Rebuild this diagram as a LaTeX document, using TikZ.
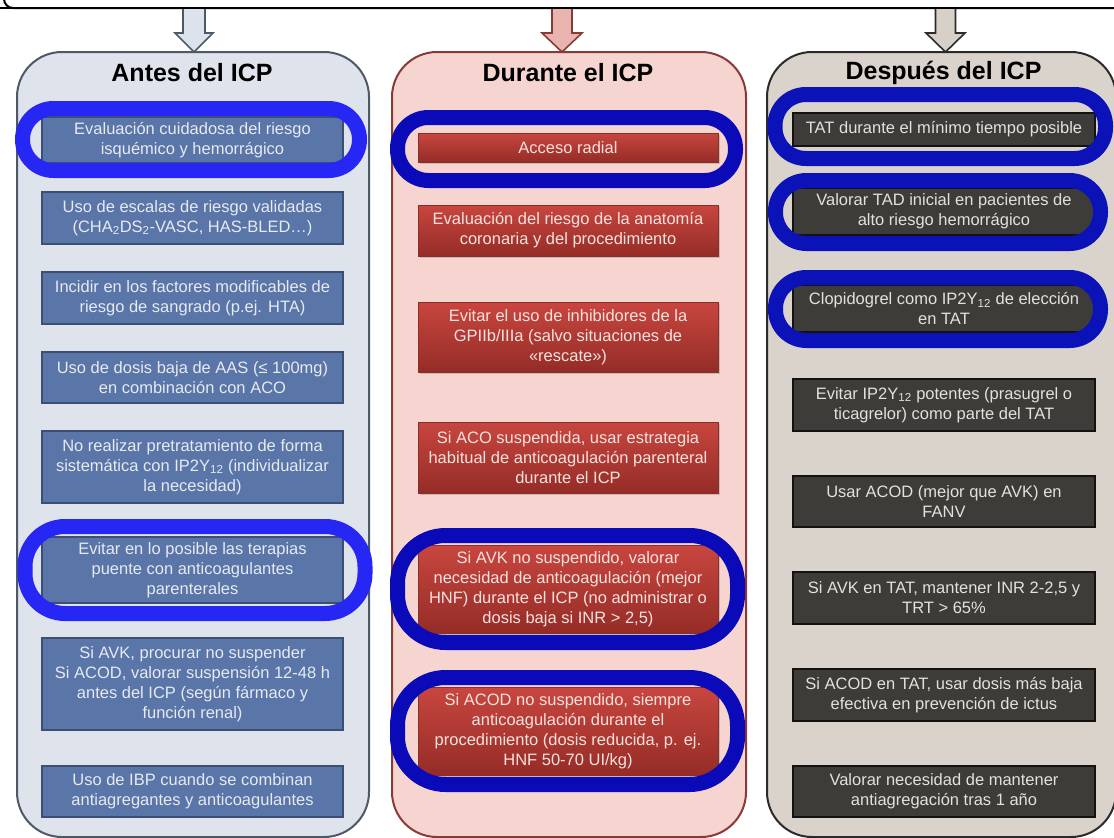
\documentclass[tikz,border=0pt]{standalone}
\usepackage{fontspec}
\setmainfont{Liberation Sans}
\usetikzlibrary{shadows,calc}
\definecolor{panLfill}{HTML}{DFE4EC}
\definecolor{panLdraw}{HTML}{4F5866}
\definecolor{panMfill}{HTML}{F6D5D0}
\definecolor{panMdraw}{HTML}{8A3A35}
\definecolor{panRfill}{HTML}{D9D3CC}
\definecolor{panRdraw}{HTML}{2B2B2B}
\definecolor{boxLfill}{HTML}{5A75A7}
\definecolor{boxLdraw}{HTML}{3D4E73}
\definecolor{boxLtext}{HTML}{E6EAF2}
\definecolor{boxMtop}{HTML}{C8463F}
\definecolor{boxMbot}{HTML}{952C27}
\definecolor{boxMdraw}{HTML}{8A2E29}
\definecolor{boxMtext}{HTML}{F7E2DE}
\definecolor{boxRfill}{HTML}{3E3C39}
\definecolor{boxRdraw}{HTML}{121212}
\definecolor{boxRtext}{HTML}{E2E1DD}
\definecolor{ringL}{HTML}{2626F5}
\definecolor{ringM}{HTML}{0A0AB8}
\definecolor{ringR}{HTML}{0A12B8}
\definecolor{arrLfill}{HTML}{DDE3ED}
\definecolor{arrMfill}{HTML}{E9B4B0}
\definecolor{arrRfill}{HTML}{D6D0C9}
\begin{document}
\begin{tikzpicture}[x=1pt,y=-1pt,
  panel/.style={rectangle, rounded corners=45pt, line width=2pt, inner sep=0pt},
  header/.style={font=\fontsize{25}{29}\selectfont\bfseries, text=black},
  boxtxt/.style={rectangle, align=center, inner sep=0pt, font=\fontsize{16.5}{20}\selectfont},
  lbox/.style={boxtxt, fill=boxLfill, draw=boxLdraw, line width=1.5pt, text=boxLtext, minimum width=301pt},
  mbox/.style={boxtxt, top color=boxMtop, bottom color=boxMbot, draw=boxMdraw, line width=0.8pt, text=boxMtext, minimum width=300pt,
     drop shadow={shadow xshift=1.5pt, shadow yshift=-2pt, opacity=0.35}},
  rbox/.style={boxtxt, fill=boxRfill, draw=boxRdraw, line width=2pt, text=boxRtext, minimum width=302pt},
  ring/.style={line width=15pt, rounded corners=#1},
  blockarrow/.style={line width=1.6pt, line join=miter}
]
\useasboundingbox (0,0) rectangle (1114,838);
\clip (0,0) rectangle (1114,838);

% top box
\draw[line width=2pt, rounded corners=9pt] (4,-40) rectangle (1140,8);

% panels
\node[panel, fill=panLfill, draw=panLdraw, minimum width=352pt, minimum height=785pt] (antes) at (193,444.5) {};
\node[panel, fill=panMfill, draw=panMdraw, minimum width=354pt, minimum height=785pt] (durante) at (569,444.5) {};
\node[panel, fill=panRfill, draw=panRdraw, minimum width=349pt, minimum height=785pt] (despues) at (941.5,444.5) {};

% arrows
\coordinate (aL) at (194,52);
\coordinate (aM) at (562,52);
\coordinate (aR) at (945.5,52);
\draw[blockarrow, fill=arrLfill, draw=panLdraw] (aL) -- ++(-19,-19) -- ++(8,0) -- ++(0,-25) -- ++(22,0) -- ++(0,25) -- ++(8,0) -- cycle;
\draw[blockarrow, fill=arrMfill, draw=panMdraw] (aM) -- ++(-20,-19) -- ++(10,0) -- ++(0,-25) -- ++(20,0) -- ++(0,25) -- ++(10,0) -- cycle;
\draw[blockarrow, fill=arrRfill, draw=panRdraw] (aR) -- ++(-19.5,-19) -- ++(9.5,0) -- ++(0,-25) -- ++(20,0) -- ++(0,25) -- ++(9.5,0) -- cycle;
\draw[line width=2pt] (-5,8) -- (1140,8);

% headers
\node[header] (hL) at (192,73) {Antes del ICP};
\node[header] (hM) at (568,73) {Durante el ICP};
\node[header] (hR) at (943.5,73) {Después del ICP};

% left column
\node[lbox, minimum height=46pt] (l1) at (192.5,140) {Evaluación cuidadosa del riesgo\\isquémico y hemorrágico};
\node[lbox, minimum height=52pt] (l2) at (192.5,218) {Uso de escalas de riesgo validadas\\(CHA\textsubscript{2}DS\textsubscript{2}-VASC, HAS-BLED…)};
\node[lbox, minimum height=52pt] (l3) at (192.5,298) {Incidir en los factores modificables de\\riesgo de sangrado (p.ej. HTA)};
\node[lbox, minimum height=51pt] (l4) at (192.5,377.5) {Uso de dosis baja de AAS (≤ 100mg)\\en combinación con ACO};
\node[lbox, minimum height=72pt] (l5) at (192.5,467) {No realizar pretratamiento de forma\\sistemática con IP2Y\textsubscript{12} (individualizar\\la necesidad)};
\node[lbox, minimum height=66pt] (l6) at (192.5,570) {Evitar en lo posible las terapias\\puente con anticoagulantes\\parenterales};
\node[lbox, minimum height=92pt] (l7) at (192.5,684) {Si AVK, procurar no suspender\\Si ACOD, valorar suspensión 12-48 h\\antes del ICP (según fármaco y\\función renal)};
\node[lbox, minimum height=51pt] (l8) at (192.5,791.5) {Uso de IBP cuando se combinan\\antiagregantes y anticoagulantes};

% middle column
\node[mbox, minimum height=29pt] (m1) at (568,147.5) {Acceso radial};
\node[mbox, minimum height=51pt] (m2) at (568,230.5) {Evaluación del riesgo de la anatomía\\coronaria y del procedimiento};
\node[mbox, minimum height=70pt] (m3) at (568,337) {Evitar el uso de inhibidores de la\\GPIIb/IIIa (salvo situaciones de\\«rescate»)};
\node[mbox, minimum height=71pt] (m4) at (568,457.5) {Si ACO suspendida, usar estrategia\\habitual de anticoagulación parenteral\\durante el ICP};
\node[mbox, minimum height=88pt] (m5) at (568,589) {Si AVK no suspendido, valorar\\necesidad de anticoagulación (mejor\\HNF) durante el ICP (no administrar o\\dosis baja si INR > 2,5)};
\node[mbox, minimum height=88pt] (m6) at (568,731) {Si ACOD no suspendido, siempre\\anticoagulación durante el\\procedimiento (dosis reducida, p. ej.\\HNF 50-70 UI/kg)};

% right column
\node[rbox, minimum height=33pt] (r1) at (944,129.5) {TAT durante el mínimo tiempo posible};
\node[rbox, minimum height=47pt] (r2) at (944,211.5) {Valorar TAD inicial en pacientes de\\alto riesgo hemorrágico};
\node[rbox, minimum height=47pt] (r3) at (944,308.5) {Clopidogrel como IP2Y\textsubscript{12} de elección\\en TAT};
\node[rbox, minimum height=52pt] (r4) at (944,405) {Evitar IP2Y\textsubscript{12} potentes (prasugrel o\\ticagrelor) como parte del TAT};
\node[rbox, minimum height=51pt] (r5) at (944,501.5) {Usar ACOD (mejor que AVK) en\\FANV};
\node[rbox, minimum height=52pt] (r6) at (944,598) {Si AVK en TAT, mantener INR 2-2,5 y\\TRT > 65\%};
\node[rbox, minimum height=52pt] (r7) at (944,695) {Si ACOD en TAT, usar dosis más baja\\efectiva en prevención de ictus};
\node[rbox, minimum height=51pt] (r8) at (944,791.5) {Valorar necesidad de mantener\\antiagregación tras 1 año};

% highlight rings
\draw[ring=31pt, draw=ringL] (22.5,108.5) rectangle (359.5,170.5);
\draw[ring=40pt, draw=ringL] (25,526.5) rectangle (365,613.5);
\draw[ring=31pt, draw=ringM] (397.5,117.5) rectangle (735.5,180.5);
\draw[ring=48pt, draw=ringM] (397.5,535.5) rectangle (737.5,642.5);
\draw[ring=48pt, draw=ringM] (397.5,677.5) rectangle (737.5,784.5);
\draw[ring=31pt, draw=ringR] (775,94.5) rectangle (1105.5,158.5);
\draw[ring=31pt, draw=ringR] (775.5,180.5) rectangle (1100.5,243.5);
\draw[ring=31pt, draw=ringR] (775.5,277.5) rectangle (1100.5,340.5);
\end{tikzpicture}
\end{document}
